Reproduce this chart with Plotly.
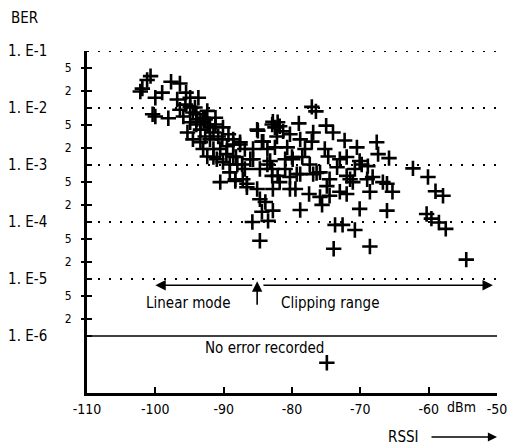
import numpy as np
import plotly.graph_objects as go

# RSSI (dBm) and log10(BER)
rssi = [-100.7, -101.2, -101.9, -102.2, -97.7, -96.4, -99.0, -100.0, -95.5, -94.9,
        -93.7, -100.4, -100.0, -98.1, -96.8, -96.4, -95.9, -94.9, -94.5, -94.9,
        -93.9, -93.4, -92.4, -91.2, -90.1, -95.3, -94.5, -93.4, -93.0, -92.0,
        -91.5, -90.5, -89.5, -88.6, -87.6, -92.4, -91.0, -90.1, -88.6, -90.5,
        -89.1, -88.3, -87.3, -86.6, -85.7, -85.1, -84.4, -83.6, -82.9, -81.8,
        -82.2, -80.7, -79.9, -85.7, -84.7, -83.6, -82.9, -82.8, -81.8, -80.3,
        -84.7, -83.9, -84.4, -82.8, -85.8, -83.5, -84.7, -79.3, -77.1, -76.5,
        -85.0, -82.8, -82.1, -81.3, -82.5, -79.0, -75.0, -74.0, -72.3, -70.5,
        -67.6, -67.4, -65.8, -76.9, -77.1, -75.2, -74.7, -72.0, -78.1, -78.5,
        -84.2, -83.2, -82.5, -80.0, -76.4, -69.8, -73.4, -72.0, -71.5, -69.0,
        -68.2, -66.7, -65.3, -66.1, -68.6, -73.0, -72.0, -77.5, -74.9, -75.9,
        -74.5, -75.6, -78.8, -73.7, -72.6, -70.8, -73.9, -68.6, -70.1, -66.1,
        -62.3, -60.1, -59.0, -57.9, -60.3, -59.6, -58.5, -57.5, -54.5, -87.2,
        -88.3, -86.6, -88.6, -87.6, -85.1, -82.1, -80.3, -78.8, -76.9, -75.9,
        -82.9, -81.0, -93.0, -92.3, -91.5, -90.8, -94.0, -89.6, -88.2, -86.9,
        -70.1, -68.9, -71.1,
        -95.6, -94.2, -92.7, -93.4, -92.0, -91.2, -92.7, -90.2, -89.3, -91.5,
        -88.0, -86.9, -86.1, -89.1, -94.0,
        -80.3, -78.8, -81.0, -77.4, -74.5, -73.0, -70.8, -79.5]
log_ber = [-1.44, -1.51, -1.66, -1.71, -1.54, -1.57, -1.73, -1.82, -1.73, -1.82,
           -1.82, -2.11, -2.15, -2.18, -1.85, -2.03, -2.15, -1.98, -2.08, -2.25,
           -2.20, -2.38, -2.05, -2.17, -2.34, -2.43, -2.55, -2.60, -2.72, -2.55,
           -2.72, -2.72, -2.67, -2.55, -2.64, -2.85, -2.90, -2.95, -2.85, -3.30,
           -3.13, -3.25, -2.99, -3.33, -2.72, -2.38, -2.59, -2.72, -2.29, -2.32,
           -2.50, -2.69, -2.90, -2.90, -3.07, -2.99, -3.19, -3.42, -3.30, -3.42,
           -3.60, -3.65, -3.82, -3.80, -4.00, -3.98, -4.33, -3.16, -1.98, -2.06,
           -2.40, -2.24, -2.25, -2.41, -2.34, -2.27, -2.31, -2.43, -2.57, -2.69,
           -2.60, -2.81, -2.88, -2.43, -2.59, -2.72, -2.85, -2.86, -2.72, -2.86,
           -2.59, -2.93, -2.69, -2.86, -3.14, -2.99, -3.04, -3.19, -3.25, -3.25,
           -3.21, -3.30, -3.47, -3.33, -3.47, -3.47, -3.51, -3.51, -3.37, -3.56,
           -3.54, -3.70, -3.79, -4.05, -4.05, -4.14, -4.47, -4.43, -3.77, -3.80,
           -3.06, -3.21, -3.46, -3.54, -3.86, -3.94, -4.01, -4.12, -4.66, -3.25,
           -3.28, -3.39, -2.64, -2.60, -3.42, -3.19, -3.21, -3.16, -3.16, -3.13,
           -3.07, -3.07, -2.17, -2.29, -2.43, -2.50, -2.29, -2.81, -2.86, -2.72,
           -2.93, -3.02, -3.30,
           -1.94, -1.99, -2.20, -2.25, -2.34, -2.29, -2.50, -2.55, -2.46, -2.86,
           -2.99, -3.07, -2.90, -2.99, -2.11,
           -2.46, -2.55, -2.90, -2.99, -3.25, -2.90, -3.07, -3.42]
ber = [10 ** v for v in log_ber]

# measurement with no error recorded (drawn below the 1E-6 line)
noerr_rssi = [-74.9]
noerr_log = [-6.47]
noerr_ber = [10 ** v for v in noerr_log]

x_ticks = [-110, -100, -90, -80, -70, -60, -50]
x_text = ["-110", "-100", "-90", "-80", "-70", "-60", "-50"]
decades = [1e-1, 1e-2, 1e-3, 1e-4, 1e-5, 1e-6]
decade_text = ["1. E-1", "1. E-2", "1. E-3", "1. E-4", "1. E-5", "1. E-6"]
minors = [5e-2, 2e-2, 5e-3, 2e-3, 5e-4, 2e-4, 5e-5, 2e-5, 5e-6, 2e-6]
minor_text = ["5", "2", "5", "2", "5", "2", "5", "2", "5", "2"]

FONT = "DejaVu Sans Condensed"
PW, PH = 410, 342

fig = go.Figure()
fig.add_trace(go.Scatter(
    x=rssi + noerr_rssi, y=ber + noerr_ber, mode="markers",
    marker=dict(symbol="cross-thin", size=11, line=dict(width=2.6, color="black"), color="black"),
    showlegend=False, hoverinfo="skip"))
fig.add_trace(go.Scatter(x=[-110], y=[1e-7], yaxis="y2", mode="markers",
                         marker=dict(opacity=0), showlegend=False, hoverinfo="skip"))

# dotted decade lines and solid 1E-6 line
for d in decades[:-1]:
    fig.add_shape(type="line", xref="paper", x0=0, x1=1, yref="y", y0=d, y1=d,
                  line=dict(color="black", width=2, dash="2px,9px"))
fig.add_shape(type="line", xref="paper", x0=0, x1=1, yref="y", y0=1e-6, y1=1e-6,
              line=dict(color="black", width=1.6))

tf = dict(family=FONT, size=15, color="black")
ann = []
# Linear mode / clipping range arrows (log units for y)
yl = -5.11
ann.append(dict(x=-100.0, y=yl, ax=-85.6, ay=yl, xref="x", yref="y", axref="x", ayref="y",
                text="", showarrow=True, arrowhead=2, arrowsize=1.3, arrowwidth=1.6, arrowcolor="black"))
ann.append(dict(x=-50.6, y=yl, ax=-84.4, ay=yl, xref="x", yref="y", axref="x", ayref="y",
                text="", showarrow=True, arrowhead=2, arrowsize=1.3, arrowwidth=1.6, arrowcolor="black"))
ann.append(dict(x=-85.1, y=-5.04, ax=-85.1, ay=-5.48, xref="x", yref="y", axref="x", ayref="y",
                text="", showarrow=True, arrowhead=2, arrowsize=1.3, arrowwidth=1.6, arrowcolor="black"))
ann.append(dict(x=-95.2, y=-5.42, xref="x", yref="y", text="Linear mode", showarrow=False, font=tf))
ann.append(dict(x=-74.5, y=-5.42, xref="x", yref="y", text="Clipping range", showarrow=False, font=tf))
ann.append(dict(x=-84.0, y=-6.21, xref="x", yref="y", text="No error recorded", showarrow=False, font=tf))
# axis titles
ann.append(dict(xref="paper", yref="paper", x=(461 - 87) / PW, y=-14 / PH, text="dBm",
                xanchor="center", yanchor="middle",
                showarrow=False, font=dict(family=FONT, size=14, color="black")))
ann.append(dict(xref="paper", yref="paper", x=(403 - 87) / PW, y=-44 / PH, text="RSSI",
                xanchor="center", yanchor="middle", showarrow=False, font=tf))
ann.append(dict(xref="paper", yref="paper", x=(497 - 87) / PW, y=-44 / PH,
                ax=-67, ay=0, axref="pixel", ayref="pixel",
                text="", showarrow=True, arrowhead=2, arrowsize=1.3, arrowwidth=1.4, arrowcolor="black"))
ann.append(dict(xref="paper", yref="paper", x=(24 - 87) / PW, y=(PH + 33) / PH, text="BER",
                xanchor="center", yanchor="middle", showarrow=False, font=tf))

fig.update_layout(
    width=509, height=446,
    margin=dict(l=87, r=12, t=51, b=53, autoexpand=False),
    paper_bgcolor="white", plot_bgcolor="white",
    font=tf,
    annotations=ann,
    xaxis=dict(range=[-110, -50], tickvals=x_ticks, ticktext=x_text, showgrid=False, zeroline=False,
               showline=True, linewidth=2.5, linecolor="black", ticks="inside", ticklen=6,
               tickwidth=1.5, tickcolor="black", ticklabelstandoff=1, automargin=False,
               tickfont=dict(family=FONT, size=14)),
    yaxis=dict(type="log", range=[-7, -1], tickvals=decades + minors,
               ticktext=decade_text + [""] * len(minors), showgrid=False, zeroline=False,
               showline=True, linewidth=2.5, linecolor="black", ticks="inside", ticklen=5,
               tickwidth=1.5, tickcolor="black", ticklabelstandoff=34, automargin=False,
               tickfont=dict(family=FONT, size=15)),
    yaxis2=dict(type="log", range=[-7, -1], overlaying="y", side="left", anchor="x",
                tickvals=minors, ticktext=minor_text, showgrid=False, zeroline=False,
                showline=False, ticks="outside", ticklen=5, tickwidth=1.5, tickcolor="black",
                ticklabelstandoff=7, automargin=False, tickfont=dict(family=FONT, size=12)),
)

fig.write_html("out.html", config={"displayModeBar": False},
               post_script="document.body.style.margin='0';")
